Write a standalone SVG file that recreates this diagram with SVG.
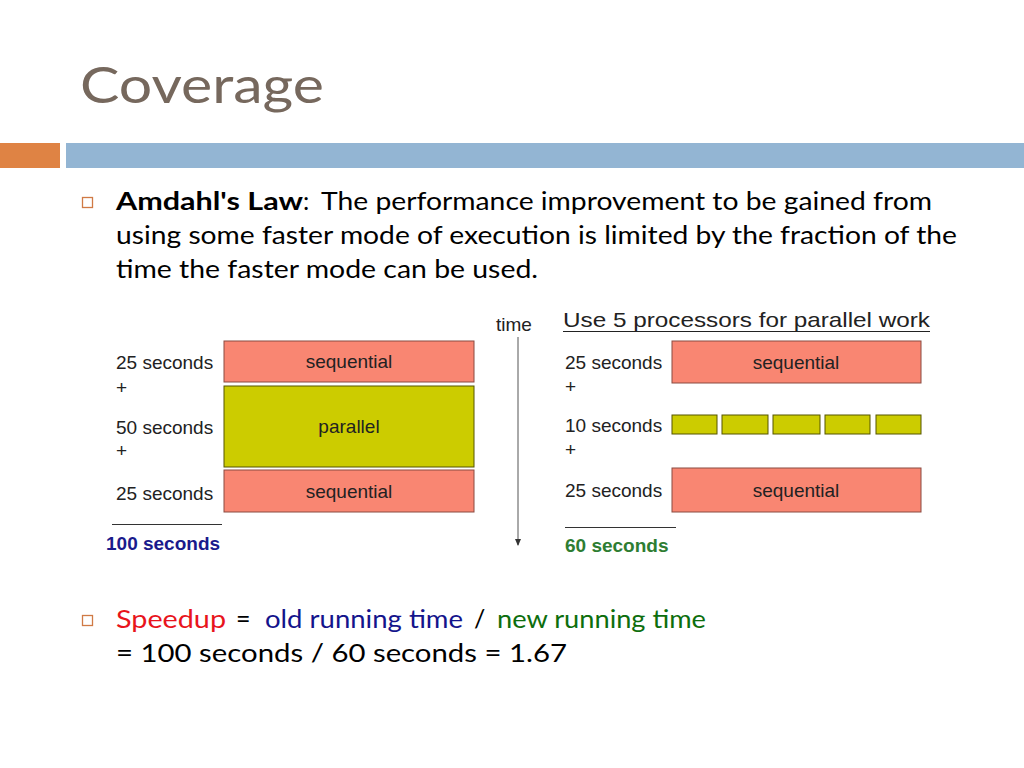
<svg xmlns="http://www.w3.org/2000/svg" width="1024" height="768" viewBox="0 0 1024 768">
<style>
.body{font-family:Lato,"Open Sans",sans-serif;font-size:25px;fill:#000}
.lbl{font-family:"Liberation Sans",Arial,sans-serif;font-size:19px;fill:#222}
.box{font-family:"Liberation Sans",Arial,sans-serif;font-size:19px;fill:#222;text-anchor:middle}
.seq{fill:#f98672;stroke:#8a4a40;stroke-width:1}
.par{fill:#cccc00;stroke:#555500;stroke-width:1}
.bul{fill:none;stroke:#d07a45;stroke-width:1.3}
</style>
<defs>
<marker id="ah" markerWidth="8" markerHeight="8" refX="6" refY="3.5" orient="auto" markerUnits="userSpaceOnUse">
<path d="M0,0.5 L7,3.5 L0,6.5 Z" fill="#333"/>
</marker>
</defs>
<rect width="1024" height="768" fill="#fff"/>
<g id="title">
<text x="80" y="103" font-family="Lato,'Open Sans',sans-serif" font-size="50" fill="#76685d" textLength="244" lengthAdjust="spacingAndGlyphs">Coverage</text>
<rect x="0" y="143" width="60" height="25" fill="#df8344"/>
<rect x="66" y="143" width="958" height="25" fill="#93b5d3"/>
</g>
<g id="bullet1">
<rect class="bul" x="82.5" y="197.5" width="10" height="10"/>
<text class="body" y="210"><tspan x="116" font-weight="bold" textLength="187" lengthAdjust="spacingAndGlyphs">Amdahl's Law</tspan><tspan x="303" textLength="10">:</tspan><tspan x="321" textLength="611" lengthAdjust="spacingAndGlyphs">The performance improvement to be gained from</tspan></text>
<text class="body" x="116" y="244" textLength="841" lengthAdjust="spacingAndGlyphs">using some faster mode of execution is limited by the fraction of the</text>
<text class="body" x="116" y="278" textLength="422" lengthAdjust="spacingAndGlyphs">time the faster mode can be used.</text>
</g>
<g id="left-diagram">
<rect class="seq" x="224" y="341" width="250" height="41"/>
<text class="box" x="349" y="368">sequential</text>
<rect class="par" x="224" y="386" width="250" height="81"/>
<text class="box" x="349" y="433">parallel</text>
<rect class="seq" x="224" y="470" width="250" height="42"/>
<text class="box" x="349" y="498">sequential</text>
<text class="lbl" x="116" y="369">25 seconds</text>
<text class="lbl" x="116" y="394">+</text>
<text class="lbl" x="116" y="434">50 seconds</text>
<text class="lbl" x="116" y="457">+</text>
<text class="lbl" x="116" y="500">25 seconds</text>
<line x1="112" y1="524.5" x2="222" y2="524.5" stroke="#333" stroke-width="1"/>
<text x="106" y="550" font-family="'Liberation Sans',Arial,sans-serif" font-size="19" font-weight="bold" fill="#1a1a8c">100 seconds</text>
</g>
<g id="connectors">
<text x="496" y="331" font-family="'Liberation Sans',Arial,sans-serif" font-size="19" fill="#222">time</text>
<line x1="518" y1="337" x2="518" y2="545" stroke="#555" stroke-width="1" marker-end="url(#ah)"/>
</g>
<g id="right-diagram">
<text x="563" y="327" font-family="'Liberation Sans',Arial,sans-serif" font-size="21" fill="#222" textLength="367" lengthAdjust="spacingAndGlyphs">Use 5 processors for parallel work</text>
<line x1="563" y1="331.5" x2="930" y2="331.5" stroke="#222" stroke-width="1.2"/>
<rect class="seq" x="672" y="341" width="249" height="42"/>
<text class="box" x="796" y="369">sequential</text>
<rect class="par" x="672" y="415" width="45" height="19"/>
<rect class="par" x="722" y="415" width="46" height="19"/>
<rect class="par" x="773" y="415" width="47" height="19"/>
<rect class="par" x="825" y="415" width="45" height="19"/>
<rect class="par" x="876" y="415" width="45" height="19"/>
<rect class="seq" x="672" y="468" width="249" height="44"/>
<text class="box" x="796" y="497">sequential</text>
<text class="lbl" x="565" y="369">25 seconds</text>
<text class="lbl" x="565" y="393">+</text>
<text class="lbl" x="565" y="432">10 seconds</text>
<text class="lbl" x="565" y="456">+</text>
<text class="lbl" x="565" y="497">25 seconds</text>
<line x1="565" y1="527.5" x2="676" y2="527.5" stroke="#333" stroke-width="1"/>
<text x="565" y="552" font-family="'Liberation Sans',Arial,sans-serif" font-size="19" font-weight="bold" fill="#2e7d32">60 seconds</text>
</g>
<g id="bullet2">
<rect class="bul" x="82.5" y="615.5" width="10" height="10"/>
<text class="body" y="628"><tspan x="116" fill="#e8141c" textLength="110" lengthAdjust="spacingAndGlyphs">Speedup</tspan><tspan x="236">=</tspan><tspan x="265" fill="#14148c" textLength="198" lengthAdjust="spacingAndGlyphs">old running time</tspan><tspan x="474">/</tspan><tspan x="497" fill="#0d6e0d" textLength="209" lengthAdjust="spacingAndGlyphs">new running time</tspan></text>
<text class="body" x="116" y="662" textLength="451" lengthAdjust="spacingAndGlyphs">= 100 seconds / 60 seconds = 1.67</text>
</g>
</svg>
